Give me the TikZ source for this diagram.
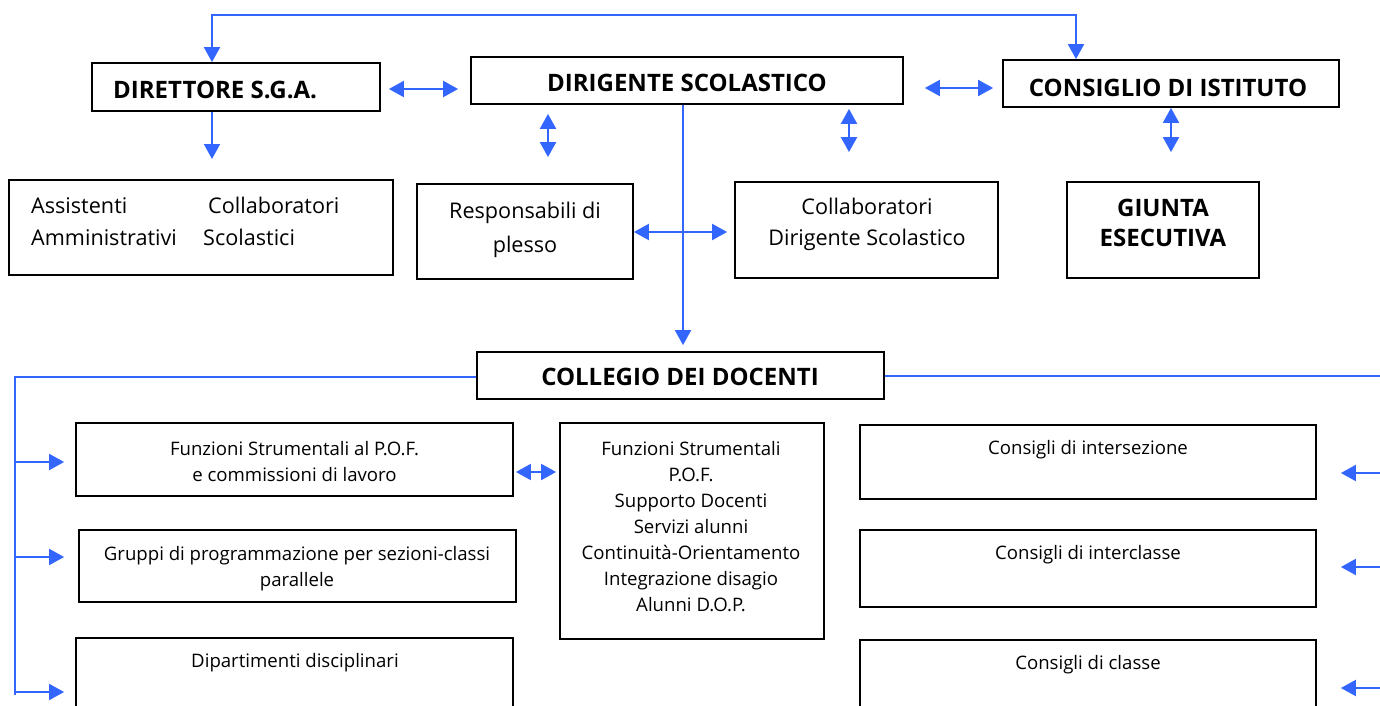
\documentclass[tikz,border=0pt]{standalone}
\usepackage{fontspec}
\setmainfont{Open Sans}
\usetikzlibrary{arrows.meta,calc}
\definecolor{conblue}{RGB}{51,102,255}
\newcommand\fReg{\fontsize{18.6}{26}\selectfont}
\newcommand\fBig{\fontsize{21.6}{32}\selectfont}
\newcommand\fBold{\fontsize{24}{30}\selectfont\bfseries}
\begin{document}
\begin{tikzpicture}[x=1pt,y=-1pt,
  box/.style={draw=black, line width=1.8pt, rectangle, inner sep=0pt},
  txt/.style={inner sep=0pt, align=center},
  conn/.style={draw=conblue, line width=2pt},
  arrend/.style={-{Triangle[length=15pt,width=16pt]}},
  arrboth/.style={{Triangle[length=15pt,width=16pt]}-{Triangle[length=15pt,width=16pt]}}
]
\useasboundingbox (0,0) rectangle (1380,706);
\fill[white] (0,0) rectangle (1380,706);
\clip (0,0) rectangle (1380,706);

% boxes
\node[box, minimum width=288pt, minimum height=48pt] (dsga) at (236,87) {};
\node[box, minimum width=432pt, minimum height=47pt] (ds) at (687,80.5) {};
\node[box, minimum width=336pt, minimum height=47pt] (ci) at (1171,83.5) {};
\node[box, minimum width=384pt, minimum height=95pt] (ass) at (201,227.5) {};
\node[box, minimum width=216pt, minimum height=95pt] (resp) at (525,231.5) {};
\node[box, minimum width=263pt, minimum height=96pt] (cds) at (866.5,230) {};
\node[box, minimum width=192pt, minimum height=96pt] (giunta) at (1163,230) {};
\node[box, minimum width=407pt, minimum height=47pt] (cd) at (680.5,375.5) {};
\node[box, minimum width=437pt, minimum height=73pt] (fsl) at (294.5,459.5) {};
\node[box, minimum width=437pt, minimum height=72pt] (grp) at (297.5,566) {};
\node[box, minimum width=437pt, minimum height=74pt] (dip) at (294.5,675) {};
\node[box, minimum width=264pt, minimum height=216pt] (fsm) at (692,531) {};
\node[box, minimum width=456pt, minimum height=74pt] (cis) at (1088,462) {};
\node[box, minimum width=456pt, minimum height=77pt] (cic) at (1088,568.5) {};
\node[box, minimum width=456pt, minimum height=74pt] (cc) at (1088,677) {};

% texts
\node[txt, font=\fBold, anchor=west] (dsga-t) at (113,90) {DIRETTORE S.G.A.};
\node[txt, font=\fBold] (ds-t) at (687,83) {DIRIGENTE SCOLASTICO};
\node[txt, font=\fBold] (ci-t) at (1168,88) {CONSIGLIO DI ISTITUTO};
\node[txt, font=\fBig, align=left, anchor=west] (ass-t) at (31,221)
  {\makebox[177pt][l]{Assistenti}Collaboratori\\\makebox[172pt][l]{Amministrativi}Scolastici};
\node[txt, font=\fontsize{21.6}{34}\selectfont] (resp-t) at (525,230) {Responsabili di\\plesso};
\node[txt, font=\fontsize{21.6}{31}\selectfont] (cds-t) at (867,224.5) {Collaboratori\\Dirigente Scolastico};
\node[txt, font=\fBold] (giunta-t) at (1163,223) {GIUNTA\\ESECUTIVA};
\node[txt, font=\fBold] (cd-t) at (680,377) {COLLEGIO DEI DOCENTI};
\node[txt, font=\fReg] (fsl-t) at (294.5,462) {Funzioni Strumentali al P.O.F.\\e commissioni di lavoro};
\node[txt, font=\fReg] (grp-t) at (297,569) {Gruppi di programmazione per sezioni-classi\\parallele};
\node[txt, font=\fReg] (dip-t) at (295,663) {Dipartimenti disciplinari};
\node[txt, font=\fReg] (fsm-t) at (691,526.5) {Funzioni Strumentali\\P.O.F.\\Supporto Docenti\\Servizi alunni\\Continuità-Orientamento\\Integrazione disagio\\Alunni D.O.P.};
\node[txt, font=\fReg] (cis-t) at (1088,450) {Consigli di intersezione};
\node[txt, font=\fReg] (cic-t) at (1088,555) {Consigli di interclasse};
\node[txt, font=\fReg] (cc-t) at (1088,665) {Consigli di classe};

% coordinates
\coordinate (t1) at (212,15);
\coordinate (t2) at (1076,15);
\coordinate (a1) at (212,159);
\coordinate (lt) at (15,377);
\coordinate (lb) at (15,695);
\coordinate (l1) at (15,462);
\coordinate (l2) at (15,557);
\coordinate (l3) at (15,692);
\coordinate (rt) at (1382,376);
\coordinate (r1) at (1382,473);
\coordinate (r2) at (1382,567);
\coordinate (r3) at (1382,688);

% connectors
\draw[conn, arrboth] (dsga.north -| t1) -- (t1) -- (t2) -- (ci.north -| t2);
\draw[conn, arrend] (dsga.south -| t1) -- (a1);
\draw[conn, arrboth, shorten <=8pt, shorten >=12pt] (dsga.east |- 0,89) -- (ds.west |- 0,89);
\draw[conn, arrboth, shorten <=21pt, shorten >=9pt] (ds.east |- 0,88) -- (ci.west |- 0,88);
\draw[conn, arrboth, shorten <=9pt, shorten >=26pt] (ds.south -| 548,0) -- (resp.north -| 548,0);
\draw[conn, arrboth, shorten <=4pt, shorten >=29pt] (ds.south -| 849,0) -- (cds.north -| 849,0);
\draw[conn, arrboth, shorten >=29pt] (ci.south -| 1171,0) -- (giunta.north -| 1171,0);
\draw[conn, arrend, shorten >=6pt] (ds.south -| 683,0) -- (cd.north -| 683,0);
\draw[conn, arrboth, shorten >=7pt] (resp.east |- 0,232) -- (cds.west |- 0,232);
\draw[conn, arrboth, shorten <=2pt, shorten >=3pt] (fsl.east |- 0,472) -- (fsm.west |- 0,472);

\draw[conn] (cd.west |- lt) -- (lt) -- (lb);
\draw[conn, arrend, shorten >=11pt] (l1) -- (fsl.west |- l1);
\draw[conn, arrend, shorten >=14pt] (l2) -- (grp.west |- l2);
\draw[conn, arrend, shorten >=11pt] (l3) -- (dip.west |- l3);

\draw[conn] (cd.east |- rt) -- (rt);
\draw[conn, arrend, shorten >=24pt] (r1) -- (cis.east |- r1);
\draw[conn, arrend, shorten >=24pt] (r2) -- (cic.east |- r2);
\draw[conn, arrend, shorten >=24pt] (r3) -- (cc.east |- r3);
\end{tikzpicture}
\end{document}
